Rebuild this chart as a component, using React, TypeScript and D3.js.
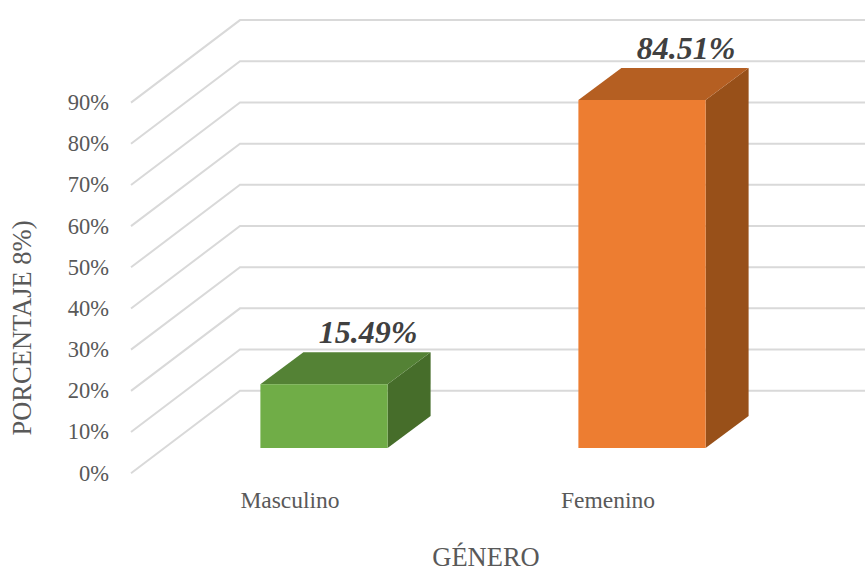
import * as d3 from 'd3';

const categories = ['Masculino', 'Femenino'];
const values = [15.49, 84.51];
const valueLabels = ['15.49%', '84.51%'];
const ticks = [0, 10, 20, 30, 40, 50, 60, 70, 80, 90];
const frontColors = ['#70AD47', '#ED7D31'];
const topColors = ['#548235', '#B55F22'];
const sideColors = ['#466D2A', '#985019'];

const width = 865;
const height = 568;
const font = '"Liberation Serif", "Times New Roman", serif';

// 3d offsets of the chart floor and of the bars
const wallDx = 109;
const wallDy = -82.5;
const barDx = 43;
const barDy = -32;
const barLift = 25.2;

const App = () => {
  const yScale = d3.scaleLinear().domain([0, 90]).range([473.2, 102.6]);
  const xScale = d3
    .scaleBand<string>()
    .domain(categories)
    .range([165, 801])
    .paddingInner(0.6)
    .paddingOuter(0.3);
  const gridLeft = 131;
  const gridRight = 865;

  return (
    <svg
      width={width}
      height={height}
      viewBox={`0 0 ${width} ${height}`}
      style={{ position: 'absolute', left: 0, top: 0 }}
      fontFamily={font}
    >
      {ticks.map(t => (
        <g key={t}>
          <polyline
            points={`${gridLeft},${yScale(t)} ${gridLeft + wallDx},${yScale(t) + wallDy} ${gridRight},${yScale(t) + wallDy}`}
            fill="none"
            stroke="#D9D9D9"
            strokeWidth={2}
          />
          <text x={109} y={yScale(t)} dy="0.33em" textAnchor="end" fontSize={22.5} fill="#595959">
            {t}%
          </text>
        </g>
      ))}

      {categories.map((c, i) => {
        const x0 = xScale(c) || 0;
        const x1 = x0 + xScale.bandwidth();
        const yb = yScale(0) - barLift;
        const yt = yb - (yScale(0) - yScale(values[i]));
        const cx = (x0 + x1) / 2;
        return (
          <g key={c}>
            <polygon
              points={`${x1},${yt} ${x1 + barDx},${yt + barDy} ${x1 + barDx},${yb + barDy} ${x1},${yb}`}
              fill={sideColors[i]}
            />
            <polygon
              points={`${x0},${yt} ${x0 + barDx},${yt + barDy} ${x1 + barDx},${yt + barDy} ${x1},${yt}`}
              fill={topColors[i]}
            />
            <rect x={x0} y={yt} width={x1 - x0} height={yb - yt} fill={frontColors[i]} />
            <text
              x={cx + barDx + 1}
              y={yt + barDy - 9}
              textAnchor="middle"
              fontSize={32}
              fontWeight="bold"
              fontStyle="italic"
              fill="#404040"
            >
              {valueLabels[i]}
            </text>
            <text x={cx - 34} y={508} textAnchor="middle" fontSize={23.5} fill="#595959">
              {c}
            </text>
          </g>
        );
      })}

      <text x={486} y={566} textAnchor="middle" fontSize={26.5} fill="#595959">
        GÉNERO
      </text>
      <text
        transform="translate(31, 328) rotate(-90)"
        textAnchor="middle"
        fontSize={26.5}
        fill="#595959"
      >
        PORCENTAJE 8%)
      </text>
    </svg>
  );
};

export default App;
